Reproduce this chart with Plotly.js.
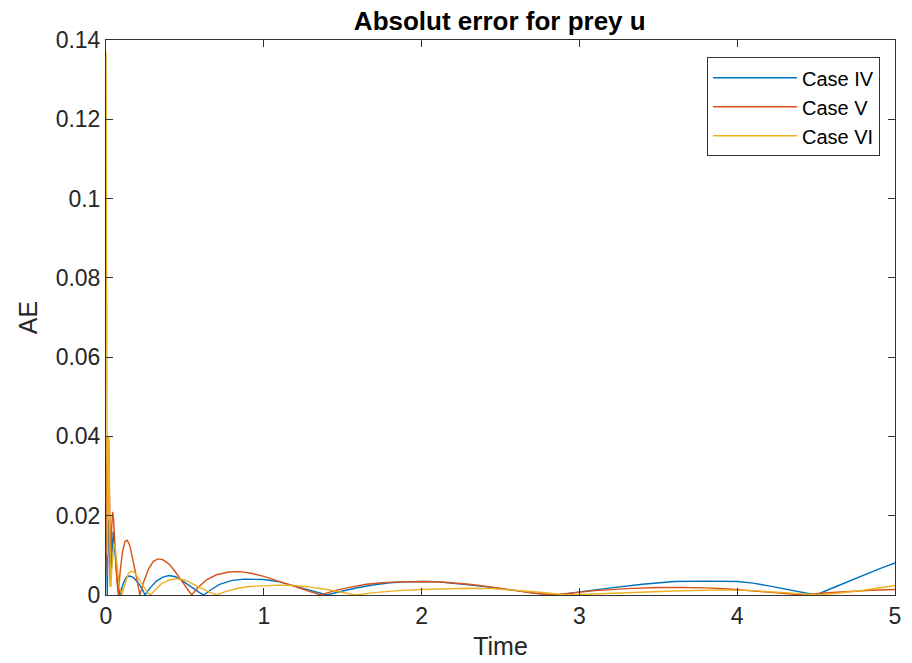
<!DOCTYPE html>
<html>
<head>
<meta charset="utf-8">
<script src="https://cdn.plot.ly/plotly-3.0.1.min.js"></script>
<style>html,body{margin:0;padding:0;background:#fff;}#chart{width:912px;height:663px;}</style>
</head>
<body>
<div id="chart"></div>
<script>
// Case IV
const caseIV_t = [0,0.004,0.008,0.012,0.017,0.022,0.028,0.034,0.04,0.046,0.053,0.06,0.068,0.078,0.089,
  0.11,0.13,0.15,0.17,0.20,0.23,0.247,0.28,0.32,0.36,0.40,0.44,0.48,0.52,0.56,0.60,0.62,
  0.66,0.72,0.80,0.88,0.95,1.0,1.1,1.2,1.3,1.40,1.5,1.6,1.7,1.8,1.9,2.0,2.1,2.2,2.3,2.4,2.5,2.6,2.7,2.8,2.87,
  3.0,3.2,3.4,3.6,3.8,4.0,4.1,4.2,4.3,4.4,4.5,4.6,4.7,4.8,4.9,5.0];
const caseIV_ae = [0.019,0.008,0.0,0.012,0.019,0.012,0.002,0.008,0.014,0.016,0.013,0.009,0.005,0.002,0,
  0.003,0.0045,0.0048,0.0045,0.0033,0.0015,0,0.0018,0.0035,0.0045,0.0049,0.0046,0.0037,0.0026,0.0014,0.0004,0,
  0.0012,0.0027,0.0037,0.0040,0.0040,0.0039,0.0033,0.0022,0.0010,0,0.0010,0.0019,0.0026,0.0031,0.0033,0.0034,0.0033,0.0030,0.0026,0.0021,0.0016,0.0010,0.0005,0.0001,0,
  0.0008,0.0018,0.0027,0.0034,0.0035,0.0034,0.0030,0.0023,0.0015,0.0007,0,0.0017,0.0034,0.0050,0.0066,0.0081];

// Case V
const caseV_t = [0,0.004,0.008,0.012,0.016,0.02,0.025,0.03,0.036,0.042,0.048,0.055,0.062,0.07,0.078,
  0.09,0.105,0.12,0.135,0.15,0.17,0.19,0.215,0.24,0.27,0.30,0.33,0.36,0.40,0.44,0.48,0.52,0.543,
  0.58,0.64,0.70,0.78,0.85,0.92,1.0,1.1,1.2,1.3,1.36,1.45,1.55,1.65,1.75,1.85,1.95,2.05,2.15,2.3,2.45,2.6,2.7,2.83,
  2.95,3.1,3.3,3.5,3.65,3.8,3.95,4.1,4.25,4.42,4.55,4.7,4.85,5.0];
const caseV_ae = [0.04,0.028,0.005,0.02,0.04,0.03,0.008,0.006,0.017,0.021,0.019,0.014,0.008,0.003,0,
  0.006,0.011,0.0135,0.0138,0.0125,0.009,0.0048,0,0.0035,0.0066,0.0085,0.0091,0.0089,0.0078,0.0058,0.0035,0.0012,0,
  0.0018,0.0039,0.0051,0.0058,0.0059,0.0055,0.0047,0.0034,0.0020,0.0007,0,0.0011,0.0020,0.0027,0.0031,0.0033,0.0034,0.0034,0.0032,0.0027,0.0020,0.0011,0.0005,0,
  0.0005,0.0011,0.0016,0.0019,0.0019,0.0018,0.0015,0.0010,0.0005,0,0.0005,0.0009,0.0012,0.0014];

// Case VI
const caseVI_t = [0,0.003,0.006,0.009,0.012,0.016,0.02,0.025,0.03,0.036,0.043,0.05,0.058,0.066,0.075,0.085,0.1,
  0.12,0.14,0.16,0.18,0.20,0.23,0.26,0.28,0.31,0.35,0.40,0.45,0.50,0.55,0.60,0.65,0.70,
  0.76,0.84,0.92,1.0,1.1,1.2,1.3,1.4,1.5,1.58,1.7,1.85,2.0,2.15,2.3,2.45,2.6,2.75,2.92,
  3.05,3.3,3.6,3.9,4.1,4.3,4.45,4.52,4.65,4.8,5.0];
const caseVI_ae = [0.137,0.1,0.05,0.01,0.02,0.04,0.035,0.012,0.002,0.006,0.011,0.013,0.012,0.009,0.005,0.002,0,
  0.003,0.0053,0.006,0.0057,0.0045,0.0025,0.0008,0,0.0013,0.0028,0.0038,0.0041,0.0038,0.0029,0.0018,0.0008,0,
  0.0009,0.0017,0.0022,0.0024,0.0025,0.0024,0.0020,0.0014,0.0006,0,0.0006,0.0011,0.0014,0.0016,0.0017,0.0016,0.0012,0.0007,0,
  0.0002,0.0006,0.0010,0.0013,0.0011,0.0006,0.0001,0,0.0005,0.0012,0.0024];

const seriesNames = ['Case IV','Case V','Case VI'];
const xTicks = [0,1,2,3,4,5];
const xTickText = ['0','1','2','3','4','5'];
const yTicks = [0,0.02,0.04,0.06,0.08,0.1,0.12,0.14];
const yTickText = ['0','0.02','0.04','0.06','0.08','0.1','0.12','0.14'];

const colors = ['#0072BD','#D95319','#EDB120'];
const font = 'Liberation Sans, Arial, Helvetica, sans-serif';

const traces = [
  {x: caseIV_t, y: caseIV_ae, name: seriesNames[0]},
  {x: caseV_t, y: caseV_ae, name: seriesNames[1]},
  {x: caseVI_t, y: caseVI_ae, name: seriesNames[2]}
].map((t,i)=>Object.assign(t,{type:'scatter',mode:'lines',line:{color:colors[i],width:1.4}}));

const axisCommon = {
  showline:true, linecolor:'#333333', linewidth:1, mirror:'ticks',
  ticks:'inside', ticklen:7, tickcolor:'#333333', tickwidth:1,
  showgrid:false, zeroline:false,
  tickfont:{family:font,size:23,color:'#262626'}
};

const layout = {
  width:912, height:663,
  margin:{l:106,r:17,t:40,b:68},
  paper_bgcolor:'#fff', plot_bgcolor:'#fff',
  title:{text:'<b>Absolut error for prey u</b>', x:0.548, xanchor:'center', y:0.968, yanchor:'middle',
    font:{family:font,size:26,color:'#000'}},
  xaxis:Object.assign({}, axisCommon, {range:[0,5], tickmode:'array', tickvals:xTicks, ticktext:xTickText,
    title:{text:'Time', font:{family:font,size:25,color:'#262626'}, standoff:9}}),
  yaxis:Object.assign({}, axisCommon, {range:[0,0.14], tickmode:'array', tickvals:yTicks, ticktext:yTickText,
    title:{text:'AE', font:{family:font,size:25,color:'#262626'}, standoff:10}}),
  showlegend:true,
  legend:{x:0.981, xanchor:'right', y:0.969, yanchor:'top', bgcolor:'#fff', bordercolor:'#333333', borderwidth:1,
    font:{family:font,size:20,color:'#000'}, itemwidth:84, tracegroupgap:0}
};

Plotly.newPlot('chart', traces, layout, {displayModeBar:false, staticPlot:true});
</script>
</body>
</html>
